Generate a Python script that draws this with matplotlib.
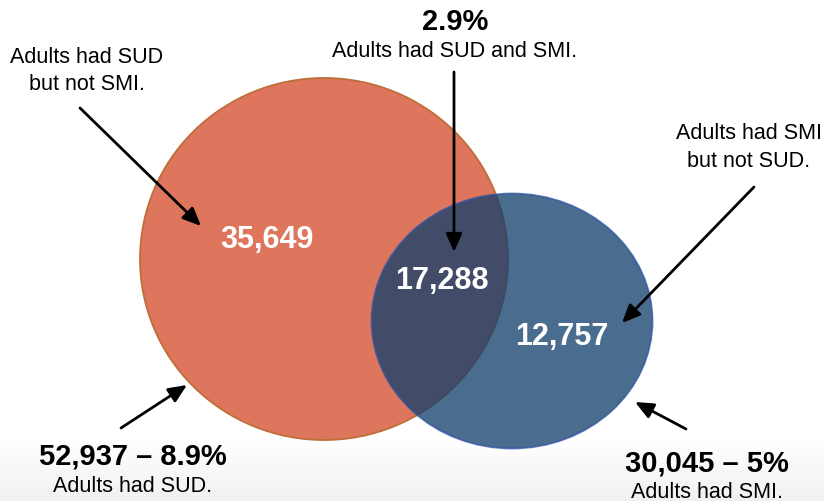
import numpy as np
import matplotlib
matplotlib.use("Agg")
import matplotlib.pyplot as plt
from matplotlib.patches import Ellipse

# Data
sud_only = 35649
smi_only = 12757
both = 17288
sud_total = 52937
smi_total = 30045
pct_sud = "8.9%"
pct_smi = "5%"
pct_both = "2.9%"

label_sud_only = "Adults had SUD\nbut not SMI."
label_smi_only = "Adults had SMI\nbut not SUD."
label_both = "Adults had SUD and SMI."
label_sud = "Adults had SUD."
label_smi = "Adults had SMI."

plt.rcParams['font.family'] = ['Liberation Sans', 'DejaVu Sans']

W, H = 824, 502
fig = plt.figure(figsize=(W / 100, H / 100), dpi=100)
ax = fig.add_axes([0, 0, 1, 1])
ax.axis('off')

# faint grey gradient at the bottom
grad = np.linspace(1.0, 0.945, 64).reshape(-1, 1)
ax.imshow(np.dstack([grad, grad, grad]), extent=(0, W, H, 440), aspect='auto', zorder=0)
ax.set_xlim(0, W)
ax.set_ylim(H, 0)

# circles
red = Ellipse((324, 260), 368, 362, facecolor='#DE755D', edgecolor='#BE6E38', lw=1.3, zorder=1)
blue = Ellipse((512, 322), 281, 255, facecolor='#113F6C', edgecolor='#2F55A0', lw=1.3, alpha=0.76, zorder=2)
ax.add_patch(red)
ax.add_patch(blue)

white = dict(color='white', fontsize=22, fontweight='bold', ha='center', va='baseline', zorder=5)
ax.text(267, 248, f"{sud_only:,}", **white)
ax.text(442, 289, f"{both:,}", **white)
ax.text(562, 345, f"{smi_only:,}", **white)

reg = dict(color='black', fontsize=15.5, ha='center', va='baseline', zorder=5)
bold = dict(color='black', fontsize=21, fontweight='bold', ha='center', va='baseline', zorder=5)

l1, l2 = label_sud_only.split("\n")
ax.text(87, 63, l1, **reg)
ax.text(87, 90, l2, **reg)
l1, l2 = label_smi_only.split("\n")
ax.text(749, 139, l1, **reg)
ax.text(749, 167, l2, **reg)

ax.text(455, 30, pct_both, **bold)
ax.text(455, 57, label_both, **reg)

ax.text(133, 465, f"{sud_total:,} \u2013 {pct_sud}", **bold)
ax.text(133, 492, label_sud, **reg)
ax.text(707, 472, f"{smi_total:,} \u2013 {pct_smi}", **bold)
ax.text(707, 498, label_smi, **reg)

arrow = dict(arrowstyle='-|>,head_length=0.5,head_width=0.22', color='black', lw=2,
             mutation_scale=22, shrinkA=0, shrinkB=0)
arrows = [((80, 109), (201, 227)),
          ((454, 73), (454, 253)),
          ((754, 188), (622, 324)),
          ((121, 429), (187, 386)),
          ((686, 430), (635, 403))]
for start, end in arrows:
    ax.annotate("", xy=end, xytext=start, arrowprops=arrow, zorder=6)

fig.savefig("out.png", dpi=100)
